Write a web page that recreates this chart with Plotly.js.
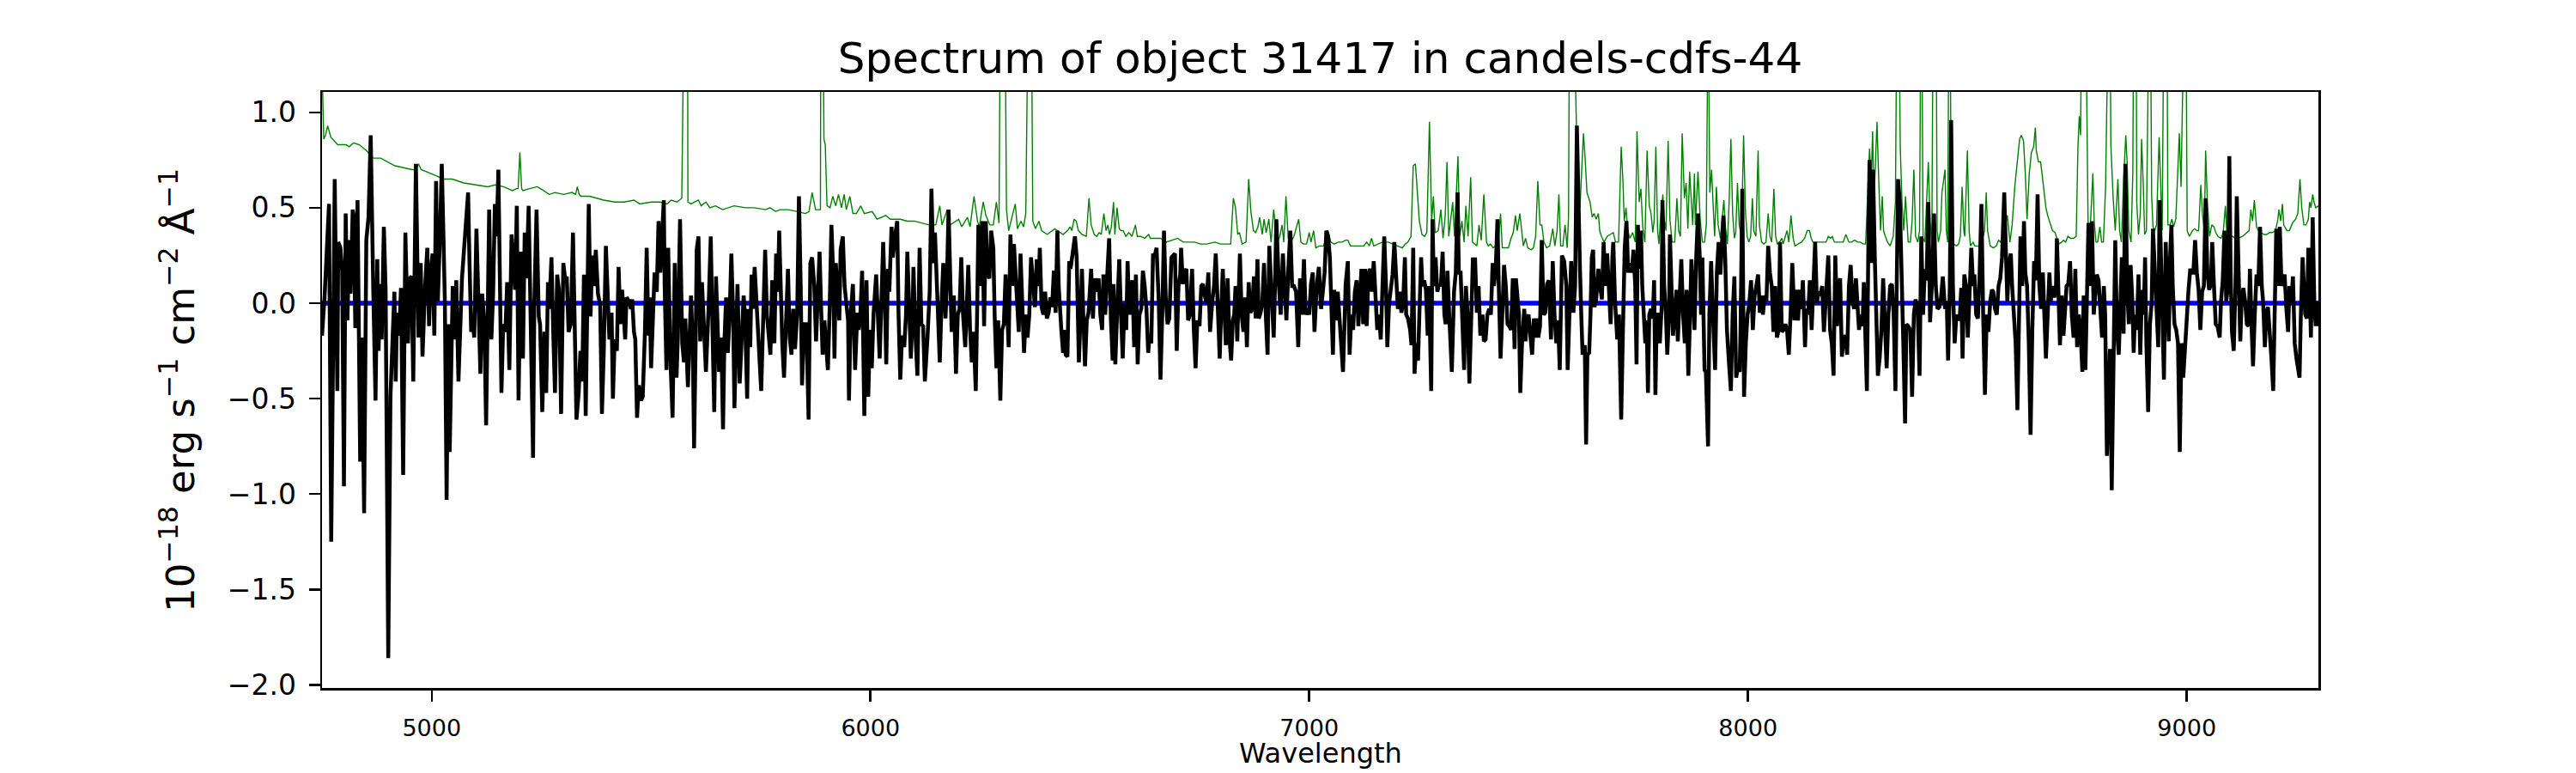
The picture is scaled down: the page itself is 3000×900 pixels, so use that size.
<!DOCTYPE html>
<html>
<head>
<meta charset="utf-8">
<script src="https://cdn.plot.ly/plotly-3.0.1.min.js"></script>
<style>html,body{margin:0;padding:0;background:#fff;}#chart{width:3000px;height:900px;}</style>
</head>
<body>
<div id="chart"></div>
<script>
// ---- Data: [wavelength (Å), flux (1e-18 erg/s/cm2/Å)] ----
const fluxA = [[4750,-0.17],[4756,0.04],[4766,0.52],[4771,-1.25],[4779,0.65],[4785,-0.46],[4787,0.32],[4792,0.29],[4796,0.17],[4800,-0.96],[4804,0.47],[4808,-0.09],[4812,0.33],[4815,0.05],[4820,0.49],[4822,0.46],[4826,-0.13],[4831,0.54],[4837,-0.83],[4841,-0.18],[4846,-1.10],[4851,0.33],[4856,0.45],[4861,0.88],[4867,0.05],[4872,-0.51],[4876,0.23],[4879,-0.25],[4882,0.10],[4886,-0.19],[4891,0.40],[4895,0.07],[4901,-1.86],[4906,-0.49],[4911,-0.18],[4915,0.06],[4918,-0.41],[4921,-0.05],[4926,-0.17],[4930,0.08],[4935,-0.90],[4940,0.37],[4946,-0.21],[4950,0.13],[4954,0.14],[4958,-0.41],[4964,0.73],[4970,-0.18],[4975,0.21],[4979,-0.28],[4985,0.09],[4990,0.29],[4994,-0.12],[4998,0.17],[5002,0.26],[5006,-0.17],[5010,0.64],[5014,0.01],[5019,0.36],[5023,0.73],[5027,0.33],[5030,0.01],[5034,-1.03],[5038,-0.11],[5041,-0.78],[5045,-0.07],[5048,0.09],[5052,-0.19],[5056,0.12],[5061,-0.41],[5066,0.01],[5069,0.13],[5074,0.29],[5078,0.44],[5083,0.58],[5086,0.23],[5090,-0.15],[5094,-0.11],[5097,-0.18],[5102,0.39],[5107,0.01],[5111,-0.37],[5115,0.05],[5120,-0.11],[5124,-0.64],[5128,-0.07],[5131,0.49],[5136,-0.19],[5140,0.05],[5144,0.52],[5148,0.35],[5152,0.70],[5156,0.01],[5159,-0.47],[5163,-0.11],[5168,-0.15],[5172,0.11],[5177,-0.35],[5182,0.36],[5186,0.19],[5190,0.07],[5194,0.51],[5198,-0.51],[5203,0.27],[5208,-0.29],[5212,0.37],[5216,0.13],[5221,0.51],[5226,-0.09],[5231,-0.81],[5234,0.01],[5239,0.49],[5244,-0.07],[5247,-0.11],[5252,-0.57],[5257,-0.15],[5261,-0.47],[5265,0.11],[5268,-0.03],[5273,0.24],[5277,-0.15],[5281,-0.47],[5286,0.15],[5290,0.07],[5295,-0.58],[5300,0.21],[5304,0.13],[5308,0.13],[5312,-0.15],[5317,-0.11],[5322,0.37],[5327,-0.27],[5330,-0.61],[5335,-0.47],[5339,-0.25],[5343,-0.41],[5347,0.15],[5351,-0.59],[5354,-0.03],[5358,0.52],[5362,-0.07],[5366,0.25],[5370,0.09],[5374,0.28],[5379,0.05],[5384,-0.01],[5388,-0.58],[5392,-0.27],[5397,0.30],[5401,-0.03],[5405,-0.19],[5410,-0.05],[5413,-0.50],[5417,-0.19],[5422,-0.25],[5426,0.19],[5430,-0.11],[5434,0.07],[5438,-0.07],[5441,-0.19],[5444,0.03],[5450,0.01],[5454,-0.03],[5457,0.02],[5461,-0.15],[5464,-0.19],[5468,-0.60],[5472,-0.43],[5477,-0.51]];
const fluxB = [[5481,-0.49],[5486,-0.15],[5490,0.29],[5494,-0.17],[5497,0.03],[5500,-0.34],[5505,0.01],[5508,0.16],[5513,0.06],[5517,0.43],[5521,0.16],[5525,0.31],[5529,0.54],[5531,0.09],[5535,-0.35],[5539,0.29],[5544,-0.29],[5549,-0.60],[5554,0.21],[5558,-0.39],[5561,-0.18],[5566,0.44],[5571,-0.21],[5575,-0.31],[5578,-0.08],[5584,-0.44],[5588,-0.21],[5591,0.04],[5595,-0.21],[5598,-0.76],[5602,-0.14],[5604,0.28],[5608,0.35],[5612,-0.20],[5616,0.11],[5621,-0.18],[5625,-0.36],[5631,-0.03],[5636,0.35],[5640,-0.14],[5644,-0.57],[5648,0.14],[5651,-0.09],[5655,-0.36],[5660,-0.18],[5664,-0.66],[5667,-0.21],[5671,0.03],[5675,-0.26],[5679,-0.06],[5683,0.26],[5687,-0.06],[5690,-0.55],[5694,-0.06],[5697,0.10],[5702,-0.42],[5707,-0.14],[5711,0.04],[5714,-0.06],[5719,-0.50],[5722,-0.03],[5726,-0.23],[5729,0.15],[5732,-0.03],[5736,0.19],[5739,0.06],[5743,-0.15],[5747,-0.33],[5751,-0.46],[5754,-0.21],[5760,0.28],[5764,-0.06],[5768,-0.20],[5772,-0.27],[5776,0.12],[5781,-0.21],[5785,0.26],[5789,0.06],[5792,0.38],[5796,-0.06],[5799,-0.21],[5803,-0.39],[5808,-0.06],[5812,0.18],[5816,-0.18],[5820,-0.27],[5824,-0.03],[5828,-0.24],[5833,-0.06],[5837,0.56],[5841,0.09],[5844,-0.43],[5849,-0.11],[5854,-0.11],[5859,-0.61],[5863,0.21],[5867,0.24],[5872,0.09],[5876,-0.20],[5880,0.06],[5884,0.27],[5888,-0.06],[5891,-0.27],[5895,-0.09],[5899,-0.21],[5903,-0.35],[5907,-0.03],[5911,0.41],[5915,0.16],[5918,-0.29],[5921,0.21],[5925,0.04],[5929,-0.09],[5932,0.28],[5937,0.35],[5941,0.09],[5945,-0.02],[5949,-0.09],[5951,-0.51],[5955,-0.06],[5960,0.10]];
const fluxC = [[5965,-0.35],[5970,-0.05],[5973,-0.14],[5977,-0.06],[5981,0.17],[5986,-0.59],[5991,0.12],[5995,-0.49],[5999,-0.14],[6003,-0.34],[6007,-0.06],[6013,0.15],[6017,-0.06],[6021,-0.29],[6025,0.01],[6029,0.32],[6033,0.00],[6036,-0.32],[6040,0.18],[6043,0.06],[6048,0.40],[6051,0.24],[6056,0.35],[6061,0.43],[6064,-0.06],[6068,-0.40],[6072,-0.17],[6077,-0.23],[6081,-0.06],[6084,0.27],[6088,0.00],[6092,-0.29],[6096,-0.06],[6098,0.19],[6102,-0.14],[6107,-0.38],[6112,0.29],[6116,-0.11],[6120,-0.12],[6124,-0.41],[6130,-0.18],[6135,0.06],[6139,0.60],[6143,0.21],[6147,0.37],[6151,0.09],[6154,-0.06],[6158,-0.31],[6162,0.00],[6166,0.21],[6171,-0.08],[6174,0.09],[6178,0.49],[6182,0.09],[6185,-0.15],[6190,0.04],[6195,-0.37],[6199,-0.06],[6203,-0.03],[6207,0.24],[6211,-0.06],[6216,-0.23],[6220,-0.03],[6223,0.20],[6227,-0.14],[6231,-0.31],[6235,-0.15],[6240,-0.46],[6243,-0.06],[6246,0.41],[6250,0.09],[6255,0.43],[6259,-0.12],[6263,0.43],[6266,0.16],[6271,0.13],[6275,0.38],[6280,0.29],[6283,-0.06],[6287,-0.34],[6291,-0.09],[6296,-0.51],[6300,-0.14],[6304,-0.11],[6308,0.15],[6312,-0.14],[6315,-0.23],[6319,0.36],[6323,0.09],[6327,0.31],[6332,0.09],[6335,-0.03],[6338,-0.15],[6342,0.26],[6346,-0.06],[6350,-0.26],[6354,-0.06],[6358,-0.18],[6362,-0.06],[6366,0.24],[6371,0.09],[6375,-0.02],[6379,0.23],[6383,0.09],[6386,0.29],[6390,-0.02],[6394,-0.06],[6398,0.06],[6402,-0.08],[6406,-0.05],[6410,0.03],[6414,-0.02],[6418,0.17],[6422,-0.05],[6426,0.38],[6429,0.09],[6435,-0.14],[6439,-0.26]];
const fluxD = [[6441,-0.14],[6445,-0.27],[6449,-0.28],[6453,0.22],[6456,0.18],[6460,0.26],[6466,0.35],[6470,0.24],[6475,-0.31],[6479,-0.06],[6482,0.18],[6485,-0.06],[6489,-0.33],[6493,-0.09],[6497,-0.05],[6503,0.18],[6507,-0.08],[6511,0.13],[6515,0.06],[6520,0.13],[6524,-0.06],[6528,-0.14],[6531,0.15],[6535,-0.06],[6539,0.09],[6544,0.34],[6548,-0.09],[6552,-0.30],[6554,0.10],[6558,-0.32],[6562,-0.06],[6567,0.23],[6571,-0.06],[6575,-0.29],[6579,0.00],[6583,-0.14],[6586,0.22],[6590,-0.06],[6595,0.09],[6597,0.12],[6601,-0.23],[6605,0.15],[6609,-0.32],[6613,-0.06],[6617,-0.03],[6621,0.17],[6625,0.09],[6629,-0.03],[6633,-0.26],[6636,-0.17],[6640,-0.21],[6644,0.26],[6648,0.25],[6652,0.29],[6657,0.01],[6661,-0.40],[6665,-0.06],[6669,0.38],[6673,0.03],[6677,-0.11],[6681,-0.08],[6686,0.24],[6690,0.25],[6694,0.26],[6698,-0.25],[6702,0.09],[6706,0.15],[6708,0.29],[6712,0.10],[6716,0.16],[6720,0.18],[6724,-0.09],[6728,-0.06],[6733,0.18],[6737,-0.14],[6741,-0.34],[6745,-0.09],[6750,-0.12],[6754,0.09],[6758,0.10],[6762,0.04],[6766,0.00],[6770,0.16],[6774,-0.15],[6779,0.01],[6783,0.09],[6787,0.26],[6792,-0.06],[6796,-0.29],[6799,-0.06],[6803,0.18],[6807,-0.06],[6810,-0.22],[6814,0.13],[6818,-0.18],[6822,-0.30],[6826,-0.09],[6829,-0.06],[6832,0.09],[6836,-0.20],[6840,0.09],[6842,0.26],[6846,-0.06],[6850,-0.15],[6854,0.03],[6858,-0.23],[6862,0.11],[6866,-0.05],[6870,-0.03],[6874,0.14],[6878,-0.08],[6882,0.23],[6885,-0.08],[6889,-0.05],[6893,0.00],[6897,0.21],[6901,-0.06],[6905,-0.27],[6909,0.30],[6914,0.09],[6919,-0.18]];
const fluxE = [[6922,0.09],[6925,0.44],[6931,0.09],[6935,-0.06],[6940,0.26],[6944,0.09],[6948,-0.09],[6953,0.21],[6957,0.38],[6961,0.09],[6965,0.09],[6970,0.06],[6975,-0.23],[6979,0.13],[6983,-0.06],[6988,0.23],[6992,-0.06],[6996,-0.03],[7000,-0.06],[7004,0.10],[7008,0.16],[7012,-0.15],[7017,0.09],[7022,0.19],[7027,-0.03],[7031,0.06],[7035,0.16],[7039,0.38],[7043,0.35],[7047,0.24],[7051,-0.03],[7054,-0.27],[7057,0.07],[7061,-0.09],[7065,0.06],[7069,-0.08],[7073,-0.17],[7077,-0.36],[7081,-0.06],[7083,0.10],[7088,0.22],[7092,-0.27],[7096,-0.06],[7100,-0.14],[7104,0.06],[7108,0.12],[7112,-0.12],[7116,0.09],[7119,0.18],[7123,-0.11],[7128,0.18],[7131,-0.12],[7135,0.15],[7139,0.18],[7143,0.06],[7147,0.22],[7151,0.04],[7155,-0.14],[7159,-0.06],[7163,-0.19],[7167,0.09],[7171,0.35],[7175,0.09],[7178,-0.23],[7182,0.00],[7186,0.09],[7190,0.15],[7194,0.32],[7198,0.09],[7202,-0.03],[7206,0.06],[7210,-0.05],[7214,0.00],[7218,0.24],[7221,-0.06],[7225,-0.08],[7230,-0.14],[7233,-0.22],[7237,0.29],[7240,-0.37],[7244,-0.21],[7248,-0.30],[7251,-0.06],[7255,0.24],[7258,0.09],[7262,0.12],[7266,0.07],[7270,-0.17],[7273,0.09],[7278,-0.46],[7281,0.44],[7284,0.09],[7288,0.24],[7292,0.06],[7296,0.10],[7300,0.09],[7304,0.27],[7308,-0.06],[7311,-0.11],[7315,0.17],[7319,-0.06],[7322,-0.18],[7325,-0.36],[7330,0.06],[7334,0.16],[7338,0.58],[7341,0.16],[7345,0.16],[7349,-0.06],[7353,-0.35],[7357,0.09],[7361,-0.06],[7365,-0.42],[7369,-0.06],[7373,0.23],[7378,0.23],[7382,-0.05],[7386,0.09],[7390,-0.17],[7395,-0.06],[7398,-0.20]];
const fluxF = [[7402,-0.19],[7406,-0.06],[7410,-0.03],[7414,-0.06],[7418,0.21],[7421,0.09],[7425,0.18],[7429,0.44],[7432,0.09],[7436,-0.29],[7440,-0.06],[7444,0.20],[7448,0.09],[7452,-0.11],[7456,-0.12],[7460,-0.14],[7464,0.13],[7468,-0.24],[7471,0.13],[7475,0.03],[7478,-0.06],[7481,-0.47],[7485,-0.21],[7490,-0.03],[7493,-0.20],[7496,-0.08],[7500,-0.06],[7504,-0.17],[7508,-0.27],[7512,-0.08],[7516,-0.18],[7520,-0.08],[7522,-0.18],[7526,-0.12],[7530,0.33],[7534,-0.06],[7538,-0.05],[7542,0.10],[7546,0.12],[7551,-0.19],[7555,0.22],[7559,-0.06],[7563,-0.21],[7567,-0.09],[7571,-0.35],[7576,0.25],[7581,0.22],[7586,0.09],[7589,-0.35],[7593,-0.06],[7597,0.22],[7602,-0.05],[7606,0.09],[7610,0.93],[7614,0.38],[7617,0.18],[7620,-0.06],[7623,-0.27],[7628,-0.22],[7631,-0.74],[7634,-0.27],[7638,-0.26],[7641,-0.06],[7644,0.24],[7647,0.28],[7650,-0.02],[7654,0.02],[7659,0.18],[7663,0.09],[7667,0.02],[7671,0.32],[7675,0.09],[7679,0.26],[7683,0.06],[7687,-0.11],[7691,0.24],[7693,0.32],[7697,0.01],[7702,-0.19],[7706,-0.06],[7711,-0.61],[7715,-0.14],[7719,0.29],[7723,0.43],[7727,0.16],[7731,0.21],[7735,0.16],[7739,0.28],[7743,0.09],[7746,-0.32],[7749,0.41],[7752,0.18],[7756,0.38],[7759,0.09],[7762,-0.06],[7766,-0.21],[7769,-0.09],[7772,-0.47],[7775,-0.06],[7779,-0.03],[7783,-0.08],[7786,0.12],[7789,-0.48],[7792,-0.06],[7796,-0.06],[7799,-0.21],[7803,-0.03],[7805,0.54],[7809,0.09],[7813,-0.06],[7816,-0.27],[7820,-0.06],[7822,0.36],[7825,0.09],[7829,-0.17],[7833,-0.06],[7837,0.07],[7840,-0.20],[7844,-0.03],[7848,0.23],[7852,-0.06],[7856,-0.21],[7860,0.07],[7864,-0.38],[7868,-0.06],[7871,0.23],[7874,0.09],[7878,-0.14]];
const fluxG = [[7882,0.24],[7886,0.47],[7890,0.24],[7893,-0.06],[7896,0.24],[7901,-0.35],[7904,-0.36],[7909,-0.75],[7912,-0.06],[7916,0.22],[7920,-0.06],[7925,-0.35],[7929,0.16],[7933,0.32],[7937,0.15],[7940,0.31],[7944,0.46],[7948,0.24],[7952,-0.14],[7956,-0.29],[7961,-0.46],[7965,-0.06],[7969,0.14],[7973,-0.39],[7977,-0.33],[7981,-0.36],[7983,-0.14],[7987,0.60],[7991,-0.49],[7995,-0.21],[7999,-0.06],[8003,0.00],[8007,0.12],[8011,-0.14],[8015,0.04],[8019,0.09],[8023,0.15],[8027,-0.05],[8030,0.04],[8034,-0.06],[8038,0.04],[8042,0.01],[8046,0.30],[8050,0.16],[8054,0.09],[8058,-0.15],[8062,0.09],[8066,-0.18],[8070,-0.14],[8073,0.32],[8077,-0.15],[8081,-0.14],[8085,-0.11],[8089,-0.14],[8093,-0.27],[8097,-0.06],[8101,0.21],[8106,-0.09],[8110,0.07],[8114,-0.09],[8118,0.07],[8122,-0.03],[8125,0.12],[8130,-0.23],[8133,-0.03],[8137,-0.06],[8141,0.12],[8145,-0.14],[8149,0.09],[8153,0.32],[8157,0.00],[8161,0.06],[8165,0.04],[8169,0.09],[8173,-0.15],[8176,0.01],[8179,0.09],[8183,0.25],[8187,-0.14],[8191,-0.21],[8195,-0.38],[8199,0.25],[8203,-0.12],[8206,0.09],[8210,0.13],[8214,-0.28],[8218,-0.17],[8222,-0.18],[8226,-0.27],[8230,0.09],[8234,0.20],[8238,0.01],[8242,-0.03],[8246,0.13],[8250,-0.03],[8253,-0.14],[8257,-0.06],[8261,-0.12],[8264,0.11],[8268,-0.14],[8271,-0.46],[8274,0.24],[8277,0.75],[8281,0.21],[8285,0.70],[8289,0.24],[8292,-0.14],[8296,-0.38],[8300,-0.29],[8304,-0.14],[8308,0.13],[8312,-0.14],[8316,-0.34],[8320,-0.06],[8324,0.09],[8328,0.10],[8332,-0.06],[8336,-0.46],[8339,0.24],[8342,0.65],[8346,0.53],[8350,0.21],[8354,-0.21],[8358,-0.63]];
const fluxH = [[8361,-0.11],[8365,-0.12],[8370,-0.14],[8374,-0.49],[8378,-0.06],[8382,0.02],[8387,-0.06],[8391,-0.38],[8395,0.35],[8399,-0.06],[8403,0.18],[8407,0.12],[8411,0.53],[8415,-0.10],[8419,0.09],[8424,0.47],[8428,0.09],[8432,-0.03],[8436,-0.02],[8440,0.03],[8444,0.14],[8449,-0.03],[8453,0.01],[8456,-0.30],[8460,0.09],[8463,0.96],[8467,0.09],[8471,-0.21],[8475,-0.06],[8479,-0.09],[8483,-0.06],[8486,0.08],[8489,-0.29],[8493,0.15],[8497,0.09],[8501,-0.18],[8505,0.01],[8509,0.29],[8513,0.09],[8516,0.15],[8520,-0.06],[8524,-0.08],[8528,0.16],[8532,0.52],[8536,-0.06],[8540,-0.48],[8544,-0.06],[8548,-0.15],[8552,0.01],[8556,0.07],[8559,0.06],[8563,-0.03],[8567,-0.06],[8571,0.09],[8575,0.13],[8579,0.24],[8584,0.58],[8588,0.24],[8591,0.01],[8595,0.21],[8599,0.26],[8602,0.09],[8606,-0.06],[8610,-0.21],[8614,-0.56],[8617,-0.06],[8621,0.35],[8625,0.09],[8629,0.43],[8632,0.16],[8636,0.09],[8640,-0.21],[8644,-0.69],[8648,-0.14],[8652,0.22],[8656,0.12],[8660,0.57],[8664,0.09],[8668,-0.03],[8672,0.16],[8676,-0.06],[8679,-0.29],[8683,-0.06],[8687,0.16],[8690,0.01],[8694,0.09],[8698,0.03],[8702,0.09],[8704,0.34],[8708,-0.06],[8711,-0.22],[8715,0.04],[8719,-0.17],[8722,-0.06],[8726,0.09],[8730,0.10],[8734,0.22],[8738,-0.06],[8742,-0.18],[8746,0.18],[8750,-0.23],[8754,-0.06],[8758,-0.15],[8762,-0.36],[8765,0.04],[8769,-0.35],[8773,0.09],[8776,0.42],[8780,0.09],[8784,0.43],[8788,-0.06],[8792,0.09],[8795,0.15],[8799,0.12],[8803,-0.06],[8807,-0.18],[8811,0.09],[8814,-0.06],[8818,-0.80],[8822,-0.36],[8825,-0.24],[8829,-0.98],[8833,-0.29],[8837,0.33]];
const fluxI = [[8841,-0.14],[8845,-0.27],[8848,-0.06],[8852,0.24],[8856,-0.16],[8860,0.73],[8864,0.09],[8868,-0.11],[8872,0.20],[8876,0.01],[8879,-0.26],[8882,-0.06],[8886,-0.14],[8890,0.15],[8894,-0.27],[8898,0.07],[8902,-0.06],[8905,0.24],[8908,-0.21],[8912,-0.57],[8916,-0.11],[8920,0.00],[8923,0.39],[8928,0.09],[8931,-0.03],[8935,-0.23],[8938,0.54],[8942,0.09],[8945,-0.06],[8948,-0.40],[8952,0.32],[8955,0.09],[8959,-0.20],[8962,0.24],[8965,0.41],[8968,0.09],[8972,-0.11],[8976,-0.14],[8980,-0.21],[8984,-0.78],[8988,-0.21],[8992,-0.39],[8996,-0.21],[9000,-0.03],[9004,0.07],[9008,0.18],[9011,0.16],[9015,0.16],[9019,0.33],[9023,0.16],[9027,0.07],[9031,-0.14],[9035,0.06],[9039,0.09],[9043,0.55],[9047,0.16],[9051,0.07],[9055,0.10],[9058,0.32],[9062,0.09],[9066,-0.11],[9070,-0.12],[9075,-0.18],[9078,0.01],[9082,0.12],[9086,0.38],[9090,0.01],[9094,0.09],[9097,0.77],[9100,0.16],[9103,-0.15],[9107,-0.25],[9111,0.09],[9114,0.56],[9118,0.09],[9122,-0.20],[9125,0.01],[9129,0.08],[9133,0.01],[9137,-0.11],[9141,-0.12],[9144,0.18],[9148,-0.14],[9151,-0.33],[9155,-0.06],[9159,0.15],[9163,0.09],[9167,0.40],[9171,0.09],[9174,0.01],[9178,-0.23],[9181,-0.06],[9185,-0.02],[9189,-0.14],[9193,-0.29],[9197,-0.46],[9201,-0.06],[9204,0.39],[9208,0.09],[9212,0.40],[9216,0.09],[9220,0.12],[9223,0.15],[9227,-0.03],[9231,-0.15],[9234,0.09],[9238,0.00],[9242,0.14],[9246,-0.21],[9250,-0.29],[9254,-0.36],[9257,-0.39],[9260,-0.06],[9264,0.24],[9267,0.09],[9270,-0.06],[9274,-0.08],[9277,0.29],[9280,0.09],[9283,-0.18],[9287,0.45],[9291,-0.03],[9294,-0.12],[9297,0.01],[9300,-0.12]];

// Noise / sky spectrum (green); values above the axis top are clipped by the axis
const noiseA = [[4750,1.25],[4754,0.86],[4758,0.88],[4763,0.93],[4770,0.87],[4786,0.83],[4805,0.83],[4812,0.82],[4822,0.84],[4835,0.83],[4851,0.80],[4867,0.76],[4884,0.76],[4900,0.74],[4916,0.72],[4936,0.71],[4955,0.70],[4964,0.70],[4970,0.73],[4976,0.70],[4988,0.69],[5008,0.67],[5027,0.65],[5047,0.65],[5073,0.63],[5105,0.62],[5128,0.61],[5144,0.62],[5164,0.61],[5184,0.59],[5193,0.60],[5197,0.60],[5201,0.79],[5205,0.60],[5208,0.59],[5223,0.60],[5241,0.61],[5255,0.59],[5268,0.57],[5281,0.58],[5301,0.57],[5320,0.58],[5328,0.57],[5332,0.61],[5336,0.57],[5340,0.56],[5360,0.56],[5392,0.54],[5418,0.53],[5438,0.53],[5461,0.54],[5474,0.52]];
const noiseB = [[5500,0.53],[5520,0.53],[5536,0.52],[5546,0.54],[5559,0.53],[5570,0.55],[5573,3.0],[5582,3.0],[5584,0.53],[5591,0.52],[5608,0.54],[5614,0.51],[5625,0.53],[5634,0.50],[5647,0.51],[5663,0.49],[5689,0.51],[5715,0.50],[5735,0.50],[5761,0.49],[5771,0.50],[5784,0.48],[5794,0.49],[5813,0.49],[5833,0.48],[5852,0.47],[5860,0.48],[5867,0.58],[5875,0.49],[5884,0.49],[5886,0.49],[5888,3.0],[5894,0.86],[5897,0.83],[5901,0.51],[5908,0.50],[5914,0.56],[5921,0.51],[5927,0.57],[5934,0.50],[5940,0.57],[5945,0.49],[5953,0.56],[5960,0.47]];
const noiseC = [[5968,0.47],[5978,0.51],[5986,0.47],[6004,0.48],[6015,0.44],[6035,0.46],[6045,0.44],[6068,0.44],[6084,0.43],[6100,0.43],[6116,0.42],[6133,0.41],[6149,0.41],[6158,0.51],[6163,0.41],[6175,0.49],[6182,0.41],[6201,0.44],[6208,0.40],[6221,0.45],[6227,0.40],[6236,0.56],[6244,0.43],[6248,0.40],[6257,0.53],[6263,0.46],[6272,0.41],[6280,0.41],[6287,0.53],[6293,0.42],[6297,2.0],[6302,3.0],[6307,1.5],[6310,0.49],[6315,0.38],[6322,0.44],[6330,0.52],[6335,0.39],[6343,0.43],[6349,0.40],[6354,0.47],[6359,1.5],[6363,2.0],[6367,1.5],[6370,0.43],[6376,0.39],[6384,0.43],[6390,0.38],[6403,0.36],[6420,0.39],[6426,0.38],[6439,0.36]];
const noiseD = [[6449,0.38],[6455,0.40],[6459,0.38],[6464,0.44],[6469,0.43],[6474,0.38],[6482,0.36],[6492,0.35],[6498,0.55],[6503,0.41],[6510,0.36],[6516,0.35],[6521,0.37],[6526,0.36],[6532,0.47],[6537,0.38],[6541,0.41],[6545,0.36],[6549,0.40],[6554,0.53],[6557,0.36],[6562,0.50],[6567,0.39],[6571,0.38],[6576,0.38],[6582,0.35],[6589,0.37],[6596,0.35],[6604,0.41],[6608,0.35],[6616,0.35],[6625,0.34],[6634,0.36],[6638,0.34],[6651,0.34],[6661,0.34],[6674,0.32],[6687,0.33],[6700,0.34],[6713,0.32],[6726,0.32],[6739,0.32],[6752,0.31],[6766,0.31],[6785,0.32],[6798,0.31],[6821,0.31],[6827,0.55],[6832,0.50],[6837,0.36],[6841,0.37],[6847,0.31],[6856,0.32],[6862,0.65],[6867,0.48],[6873,0.38],[6878,0.37],[6883,0.40],[6887,0.45],[6893,0.36],[6897,0.44],[6902,0.37],[6908,0.44],[6913,0.32],[6919,0.49]];
const noiseE = [[6927,0.32],[6933,0.35],[6938,0.41],[6942,0.32],[6947,0.56],[6952,0.34],[6958,0.32],[6965,0.35],[6970,0.39],[6976,0.44],[6981,0.32],[6987,0.31],[6994,0.31],[7000,0.37],[7004,0.32],[7010,0.38],[7015,0.29],[7023,0.30],[7033,0.30],[7043,0.38],[7049,0.32],[7057,0.31],[7066,0.32],[7075,0.32],[7083,0.33],[7088,0.33],[7094,0.30],[7105,0.30],[7115,0.30],[7124,0.30],[7131,0.32],[7137,0.30],[7142,0.34],[7147,0.30],[7157,0.31],[7167,0.32],[7180,0.32],[7190,0.31],[7199,0.30],[7212,0.29],[7219,0.31],[7225,0.32],[7232,0.35],[7237,0.72],[7242,0.73],[7246,0.61],[7251,0.43],[7257,0.36],[7263,0.35],[7268,0.37],[7274,0.95],[7279,0.43],[7283,0.56],[7287,0.37],[7294,0.38],[7300,0.49],[7305,0.34],[7310,0.46],[7314,0.74],[7318,0.35],[7323,0.46],[7327,0.53],[7331,0.35],[7335,0.56],[7339,0.77],[7343,0.35],[7348,0.43],[7353,0.32],[7357,0.51],[7362,0.35],[7368,0.66],[7372,0.32],[7377,0.31],[7382,0.30],[7387,0.41],[7392,0.33],[7398,0.57]];
const noiseF = [[7404,0.32],[7408,0.30],[7413,0.31],[7419,0.29],[7425,0.30],[7431,0.32],[7436,0.47],[7440,0.29],[7447,0.29],[7454,0.29],[7460,0.34],[7465,0.37],[7470,0.46],[7474,0.38],[7480,0.47],[7484,0.38],[7488,0.30],[7493,0.34],[7498,0.29],[7506,0.28],[7511,0.29],[7516,0.35],[7521,0.64],[7526,0.41],[7530,0.41],[7535,0.32],[7541,0.29],[7548,0.30],[7555,0.39],[7560,0.30],[7565,0.38],[7569,0.57],[7573,0.30],[7578,0.30],[7583,0.41],[7588,0.29],[7591,0.46],[7594,2.0],[7599,3.5],[7604,1.5],[7610,0.8],[7617,0.50],[7621,0.70],[7625,0.89],[7629,0.75],[7633,0.58],[7640,0.53],[7645,0.45],[7649,0.47],[7654,0.44],[7659,0.47],[7662,0.38],[7666,0.35],[7672,0.32],[7679,0.35],[7685,0.36],[7693,0.37],[7698,0.32],[7705,0.32],[7711,0.82],[7715,0.64],[7718,0.43],[7722,0.50],[7726,0.38],[7731,0.34],[7737,0.37],[7743,0.32],[7747,0.90],[7752,0.53],[7756,0.60],[7760,0.40],[7765,0.32],[7770,0.80],[7775,0.51],[7779,0.47],[7783,0.37],[7786,0.43],[7790,0.82],[7794,0.38],[7797,0.31],[7801,0.46],[7806,0.57],[7809,0.44],[7813,0.38],[7818,0.85],[7822,0.44],[7827,0.32],[7833,0.32],[7838,0.55],[7842,0.38],[7846,0.35],[7850,0.89],[7855,0.55],[7859,0.63],[7863,0.39],[7867,0.69],[7870,0.55],[7874,0.41],[7878,0.68]];
const noiseG = [[7880,0.41],[7886,0.69],[7891,0.44],[7896,0.32],[7901,0.32],[7905,0.41],[7909,1.6],[7913,0.58],[7917,0.70],[7921,0.49],[7924,0.35],[7928,0.61],[7932,0.41],[7937,0.34],[7941,0.43],[7945,0.54],[7948,0.41],[7953,0.31],[7957,0.53],[7961,0.86],[7965,0.47],[7969,0.34],[7972,0.37],[7976,0.63],[7980,0.41],[7985,0.35],[7990,0.88],[7994,0.49],[7998,0.35],[8002,0.32],[8006,0.35],[8010,0.55],[8013,0.38],[8018,0.35],[8023,0.80],[8026,0.41],[8031,0.32],[8036,0.31],[8041,0.32],[8046,0.47],[8050,0.35],[8054,0.32],[8059,0.60],[8063,0.35],[8067,0.31],[8072,0.32],[8077,0.34],[8080,0.31],[8085,0.35],[8089,0.38],[8093,0.32],[8098,0.46],[8103,0.34],[8107,0.30],[8114,0.31],[8122,0.32],[8129,0.34],[8135,0.38],[8140,0.38],[8144,0.34],[8148,0.32],[8155,0.32],[8161,0.32],[8171,0.32],[8178,0.32],[8183,0.35],[8188,0.34],[8192,0.35],[8197,0.32],[8204,0.32],[8210,0.32],[8217,0.32],[8223,0.36],[8230,0.32],[8236,0.32],[8243,0.33],[8250,0.32],[8256,0.32],[8263,0.31],[8268,0.31],[8272,0.53],[8277,0.81],[8281,0.64],[8284,0.90],[8287,0.53],[8291,0.79],[8294,0.95],[8298,0.64],[8302,0.38],[8306,0.56],[8309,0.38],[8313,0.35],[8318,0.32],[8324,0.30],[8331,0.35],[8336,0.53],[8339,1.5],[8344,1.6],[8347,0.82],[8351,0.53],[8355,0.38],[8359,0.56]];
const noiseH = [[8365,0.32],[8370,0.32],[8374,0.43],[8378,0.70],[8382,0.35],[8387,0.32],[8391,0.38],[8395,2.0],[8399,0.34],[8403,0.32],[8407,0.53],[8411,0.74],[8415,0.43],[8419,0.32],[8424,2.5],[8428,2.0],[8431,0.38],[8434,0.32],[8439,0.38],[8442,0.58],[8445,0.63],[8449,0.70],[8452,0.38],[8455,0.32],[8459,2.0],[8462,0.98],[8466,0.35],[8469,0.31],[8475,0.30],[8480,0.31],[8484,0.35],[8488,0.61],[8492,0.38],[8494,0.35],[8500,0.80],[8504,0.38],[8507,0.30],[8513,0.32],[8517,0.30],[8524,0.30],[8528,0.29],[8533,0.32],[8539,0.38],[8543,0.58],[8546,0.38],[8552,0.30],[8559,0.29],[8566,0.30],[8571,0.33],[8576,0.32],[8580,0.35],[8586,0.41],[8591,0.46],[8597,0.32],[8602,0.41],[8608,0.61],[8615,0.76],[8619,0.86],[8623,0.88],[8628,0.85],[8632,0.68],[8636,0.44],[8641,0.68],[8646,0.79],[8651,0.82],[8655,0.92],[8657,0.80],[8662,0.74],[8667,0.74],[8670,0.68],[8675,0.56],[8679,0.50],[8683,0.46],[8687,0.43],[8690,0.41],[8694,0.38],[8700,0.37],[8703,0.35],[8708,0.31],[8715,0.32],[8719,0.33],[8724,0.32],[8729,0.35],[8735,0.34],[8742,0.34],[8748,0.35],[8752,0.82],[8755,0.98],[8758,0.88],[8762,2.0],[8768,2.0],[8775,0.43],[8778,0.38],[8781,0.44],[8786,0.68],[8789,0.43],[8793,0.32],[8797,0.32],[8802,0.40],[8806,0.32],[8810,0.32],[8815,0.61],[8819,2.0],[8824,2.0],[8827,0.83],[8832,0.56],[8837,0.38]];
const noiseI = [[8843,0.65],[8847,0.38],[8851,0.32],[8856,0.64],[8861,0.88],[8864,0.74],[8868,0.38],[8873,0.32],[8877,0.68],[8880,2.0],[8884,2.0],[8886,0.53],[8890,0.36],[8894,0.47],[8897,0.86],[8901,0.61],[8904,0.36],[8908,0.38],[8912,2.0],[8916,2.0],[8920,0.56],[8923,0.40],[8927,0.38],[8931,0.41],[8937,0.87],[8940,0.68],[8944,0.38],[8949,2.0],[8954,2.0],[8957,0.41],[8962,0.41],[8966,0.44],[8970,0.40],[8975,0.44],[8979,0.68],[8983,0.89],[8987,0.61],[8992,2.0],[8997,2.0],[9001,0.38],[9006,0.35],[9013,0.38],[9018,0.39],[9023,0.38],[9027,0.38],[9032,0.62],[9036,0.46],[9040,0.38],[9043,0.80],[9047,0.53],[9052,0.35],[9057,0.41],[9062,0.40],[9066,0.37],[9071,0.35],[9078,0.34],[9083,0.37],[9088,0.51],[9091,0.38],[9098,0.35],[9104,0.35],[9111,0.34],[9117,0.34],[9127,0.35],[9137,0.37],[9142,0.38],[9146,0.49],[9150,0.43],[9154,0.54],[9159,0.40],[9163,0.38],[9169,0.37],[9176,0.36],[9182,0.36],[9189,0.37],[9195,0.37],[9202,0.38],[9207,0.43],[9210,0.49],[9214,0.43],[9218,0.52],[9221,0.41],[9228,0.38],[9234,0.38],[9241,0.42],[9248,0.44],[9253,0.47],[9258,0.65],[9262,0.50],[9267,0.41],[9272,0.41],[9277,0.44],[9280,0.53],[9283,0.50],[9287,0.57],[9290,0.53],[9294,0.50],[9300,0.51]];

const zeroLevel = [[4750,0],[9300,0]];

const xTickVals = [5000,6000,7000,8000,9000];
const xTickText = ['5000','6000','7000','8000','9000'];
const yTickVals = [-2.0,-1.5,-1.0,-0.5,0.0,0.5,1.0];
const yTickText = ['\u22122.0','\u22121.5','\u22121.0','\u22120.5','0.0','0.5','1.0'];

const titleText = 'Spectrum of object 31417 in candels-cdfs-44';
const xLabel = 'Wavelength';
const yLabel = '10<sup>\u221218</sup> erg s<sup>\u22121</sup> cm<sup>\u22122</sup> \u00C5<sup>\u22121</sup>';

// ---- Build traces ----
const flux = [].concat(fluxA, fluxB, fluxC, fluxD, fluxE, fluxF, fluxG, fluxH, fluxI);
const noise = [].concat(noiseA, noiseB, noiseC, noiseD, noiseE, noiseF, noiseG, noiseH, noiseI);

const FONT = 'DejaVu Sans, Liberation Sans, sans-serif';

const traces = [
  {type:'scatter', mode:'lines', x: zeroLevel.map(p=>p[0]), y: zeroLevel.map(p=>p[1]),
   line:{color:'#0000ff', width:5.5}, hoverinfo:'skip'},
  {type:'scatter', mode:'lines', x: noise.map(p=>p[0]), y: noise.map(p=>p[1]),
   line:{color:'#008000', width:1.4}, hoverinfo:'skip'},
  {type:'scatter', mode:'lines', x: flux.map(p=>p[0]), y: flux.map(p=>p[1]),
   line:{color:'#000000', width:4.5}, hoverinfo:'skip'}
];

const axisCommon = {
  ticks:'outside', ticklen:13, tickwidth:2.5, tickcolor:'#000',
  showline:true, linewidth:2.5, linecolor:'#000', mirror:true,
  showgrid:false, zeroline:false
};

const layout = {
  width:3000, height:900,
  margin:{l:375, r:300, t:107, b:99, pad:0},
  paper_bgcolor:'#fff', plot_bgcolor:'#fff',
  showlegend:false, hovermode:false,
  title:{text:titleText, font:{family:FONT, size:50, color:'#000'},
         x:0.5, xref:'paper', xanchor:'center', y:1-67/900, yref:'container', yanchor:'middle'},
  xaxis:Object.assign({}, axisCommon, {
    range:[4750,9300], tickmode:'array', tickvals:xTickVals, ticktext:xTickText,
    tickfont:{family:FONT, size:27, color:'#000'}, ticklabelstandoff:8
  }),
  yaxis:Object.assign({}, axisCommon, {
    range:[-2.016,1.107], tickmode:'array', tickvals:yTickVals, ticktext:yTickText,
    tickfont:{family:FONT, size:33, color:'#000'}, ticklabelstandoff:8
  }),
  annotations:[
    {text:xLabel, xref:'paper', yref:'paper', x:0.5, y:-(877-801)/694, xanchor:'center', yanchor:'middle',
     showarrow:false, font:{family:FONT, size:32, color:'#000'}},
    {text:yLabel, xref:'paper', yref:'paper', x:(207-375)/2325, y:0.5, xanchor:'center', yanchor:'middle',
     textangle:-90, showarrow:false, font:{family:FONT, size:45, color:'#000'}}
  ]
};

Plotly.newPlot('chart', traces, layout, {staticPlot:true, displayModeBar:false});
</script>
</body>
</html>
